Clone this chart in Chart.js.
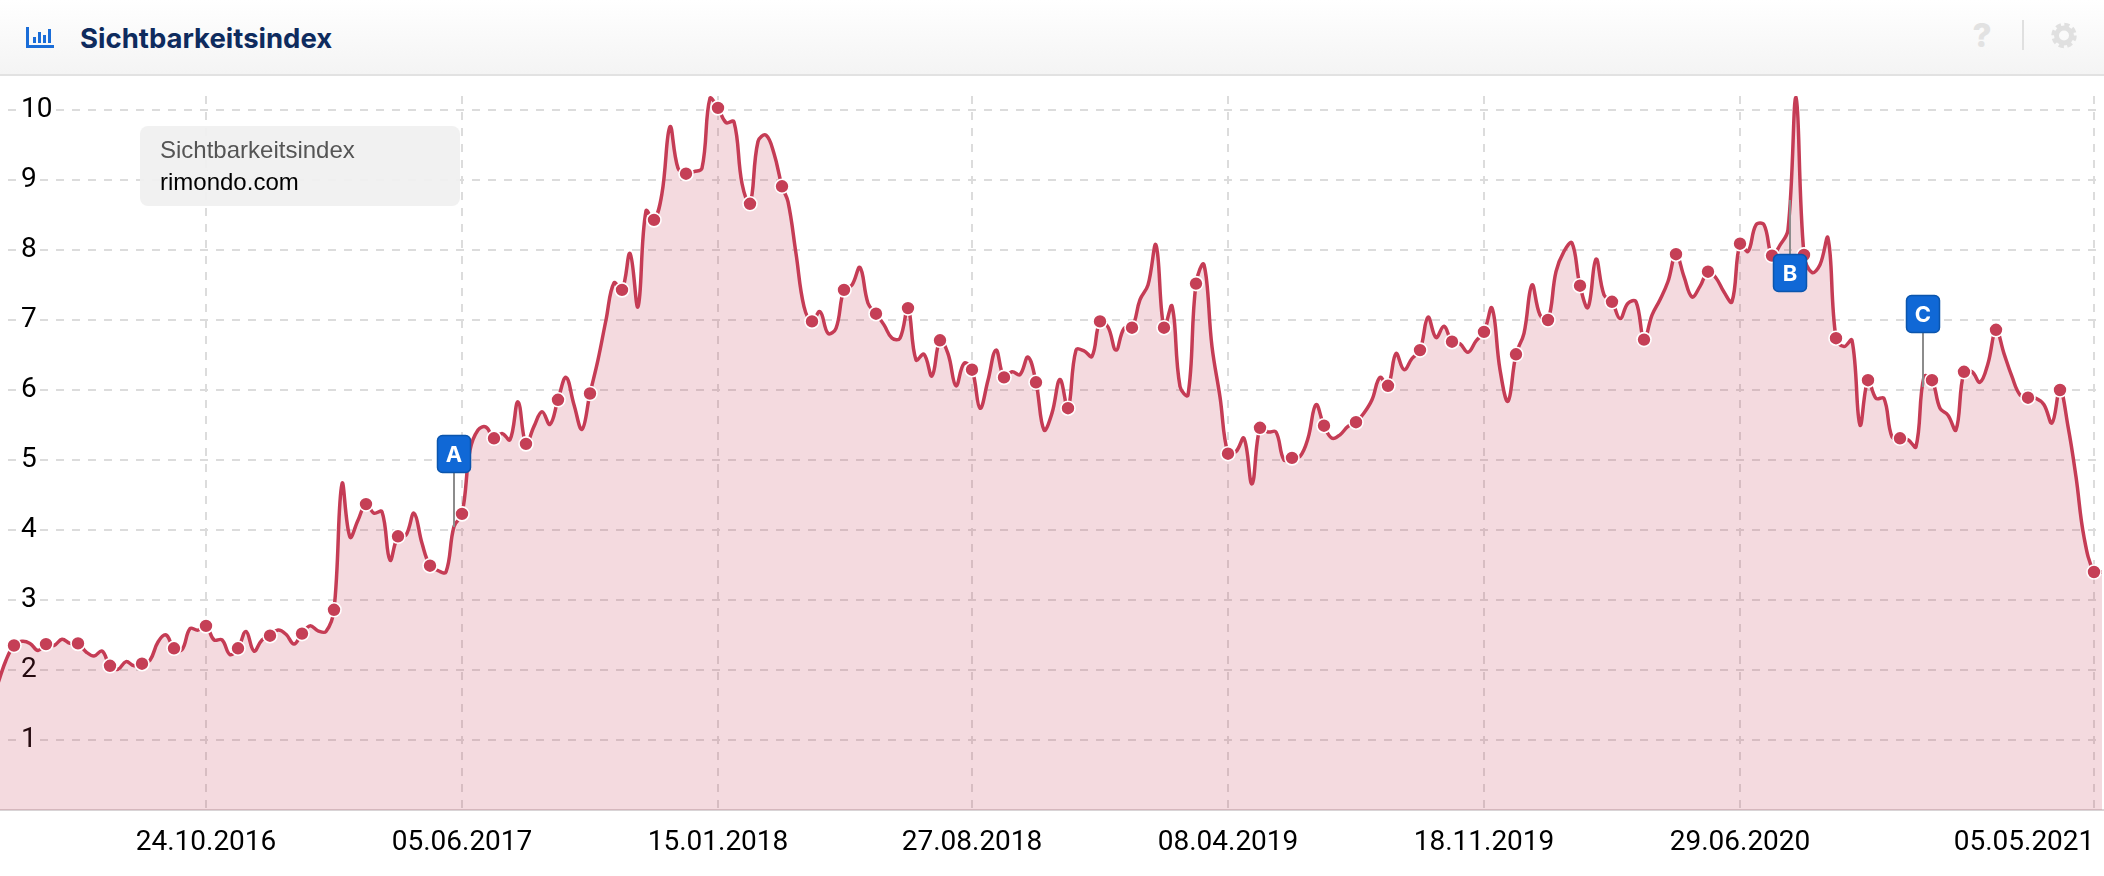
<!DOCTYPE html>
<html lang="de">
<head>
<meta charset="utf-8">
<title>Sichtbarkeitsindex</title>
<script src="https://cdn.jsdelivr.net/npm/chart.js@4/dist/chart.umd.js"></script>
<style>
  html, body { margin: 0; padding: 0; background: #fff; }
  #wrap { position: relative; width: 2104px; height: 876px; overflow: hidden; }
  #chart { position: absolute; left: 0; top: 0; }
  #head {
    position: absolute; left: 0; top: 0; width: 2104px; height: 74px;
    background: linear-gradient(#ffffff, #f4f4f4);
    border-bottom: 2px solid #e2e2e2;
  }
  #head svg { position: absolute; }
  #title {
    position: absolute; left: 80px; top: 20px;
    font: 700 27.500px/36px Inter, sans-serif; color: #0e2b5e;
  }
  #help {
    position: absolute; left: 1972px; top: 17px; width: 20px; text-align: center;
    font: 800 33px/36px Inter, sans-serif; color: #e2e2e2;
  }
  #sep { position: absolute; left: 2022px; top: 20px; width: 2px; height: 30px; background: #e0e0e0; }
  #box {
    position: absolute; left: 140px; top: 126px; width: 320px; height: 80px;
    background: rgba(240,240,240,0.93); border-radius: 8px;
    font-family: "Liberation Sans", Arial, sans-serif; font-size: 24px;
  }
  #box div { position: absolute; left: 20px; white-space: nowrap; }
  #box .a { top: 10px; color: #555; }
  #box .b { top: 42px; color: #000; }
</style>
</head>
<body>
<div id="wrap">
  <canvas id="chart" width="2104" height="876"></canvas>
  <div id="head">
    <svg style="left:26px;top:27px" width="28" height="21" viewBox="0 0 28 21">
      <path fill="#1a6dd8" d="M0 0h3v18h25v3h-28z M7 10h3v6h-3z M12 5h3v11h-3z M17 8h3v8h-3z M22 2h3v14h-3z"/>
    </svg>
    <div id="title">Sichtbarkeitsindex</div>
    <div id="help">?</div>
    <div id="sep"></div>
    <svg style="left:2051px;top:22px" width="26" height="27" viewBox="0 0 26 27">
      <circle cx="13" cy="13.500" r="10.500" fill="none" stroke="#e0e0e0" stroke-width="4.500" stroke-dasharray="5 3.250"/>
      <circle cx="13" cy="13.500" r="7.500" fill="none" stroke="#e0e0e0" stroke-width="5"/>
    </svg>
  </div>
  <div id="box"><div class="a">Sichtbarkeitsindex</div><div class="b">rimondo.com</div></div>
</div>
<script>
// weekly index values, four rows per year or so
const values2016 = [
  1.81, 2.14, 2.35, 2.41, 2.38, 2.28, 2.37, 2.35, 2.44, 2.38, 2.38, 2.26, 2.20, 2.27, 2.06, 2.01,
  2.12, 2.06, 2.09, 2.14, 2.40, 2.50, 2.31, 2.29, 2.59, 2.57, 2.63, 2.43, 2.43, 2.22, 2.31, 2.55,
  2.27, 2.43, 2.49, 2.57, 2.51, 2.37, 2.52, 2.63, 2.56, 2.55, 2.86, 4.66
];
const values2017 = [
  3.90, 4.14, 4.37, 4.24, 4.26, 3.57, 3.91, 3.93, 4.24, 3.81, 3.49, 3.42, 3.40, 4.05, 4.23, 5.14,
  5.43, 5.47, 5.31, 5.38, 5.29, 5.83, 5.23, 5.48, 5.69, 5.51, 5.86, 6.18, 5.79, 5.44, 5.95, 6.43,
  7.00, 7.53, 7.43, 7.95, 7.19, 8.56, 8.43, 8.81, 9.76, 9.17, 9.09, 9.12, 9.17, 10.17
];
const values2018 = [
  10.03, 9.82, 9.83, 8.95, 8.66, 9.55, 9.64, 9.38, 8.91, 8.69, 7.95, 7.19, 6.98, 7.12, 6.81, 6.88,
  7.43, 7.50, 7.75, 7.24, 7.09, 6.93, 6.74, 6.74, 7.17, 6.43, 6.51, 6.20, 6.71, 6.52, 6.06, 6.38,
  6.29, 5.74, 6.14, 6.57, 6.18, 6.26, 6.22, 6.47, 6.11, 5.43, 5.67, 6.15, 5.74, 6.57, 6.56, 6.48,
  6.98, 6.90, 6.57, 6.88, 6.89, 7.29, 7.50, 8.07, 6.89, 7.20, 6.05, 5.93, 7.52, 7.79, 6.62, 5.90
];
const values2019 = [
  5.09, 5.12, 5.31, 4.66, 5.46, 5.40, 5.40, 5.00, 5.03, 5.05, 5.31, 5.79, 5.49, 5.31, 5.36, 5.48,
  5.54, 5.67, 5.86, 6.18, 6.06, 6.52, 6.29, 6.45, 6.57, 7.04, 6.75, 6.91, 6.69, 6.66, 6.54, 6.70,
  6.83, 7.17, 6.29, 5.84, 6.51, 6.81, 7.50, 7.07, 7.00, 7.69, 7.98, 8.10, 7.49, 7.18, 7.87, 7.36
];
const values2020 = [
  7.26, 7.02, 7.24, 7.26, 6.72, 7.07, 7.29, 7.55, 7.94, 7.62, 7.33, 7.48, 7.69, 7.60, 7.40, 7.26,
  8.09, 7.98, 8.36, 8.36, 7.92, 8.07, 8.29, 10.18, 7.93, 7.68, 7.79, 8.17, 6.74, 6.62, 6.71, 5.50,
  6.14, 5.88, 5.88, 5.33, 5.31, 5.29, 5.19, 6.19, 6.14, 5.74, 5.64, 5.43, 6.26, 6.26, 6.11, 6.38,
  6.86, 6.52, 6.19, 5.93, 5.89, 5.88, 5.79, 5.53, 6.00, 5.48, 4.76, 3.90, 3.40, 3.40
];
const values = [...values2016, ...values2017, ...values2018, ...values2019, ...values2020];

const tickLabels = ['24.10.2016', '05.06.2017', '15.01.2018', '27.08.2018', '08.04.2019', '18.11.2019', '29.06.2020', '05.05.2021'];
const tickWeeks = [26, 58, 90, 122, 154, 186, 218, 262];
const yTicks = [1, 2, 3, 4, 5, 6, 7, 8, 9, 10];

const flagLabels = ['A', 'B', 'C'];
const flagWeeks = [57, 224, 240.6];
const flagValues = [4.05, 8.71, 6.04];
const flagBelow = [false, true, false];

const lineColor = '#c53c55';
const dashGrid = '#dcdcdc';
const fontTicks = { family: 'Roboto', size: 28 };

// the time axis loses a quarter week in 2018 and gets it back at the very end
function weekPos(i) {
  if (i >= 262) return i;
  return i >= 99 ? i - 0.25 : i;
}

const points = values.map(function (v, i) { return { x: weekPos(i), y: v }; });

// the last label sits left of its grid line, so it gets a tick of its own
const lastLabelPos = 253.25;
function buildXTicks(scale) {
  const out = [];
  tickWeeks.forEach(function (w, i) {
    if (i < tickWeeks.length - 1) out.push({ value: weekPos(w), label: tickLabels[i], line: true });
  });
  out.push({ value: lastLabelPos, label: tickLabels[tickLabels.length - 1], line: false });
  out.push({ value: weekPos(tickWeeks[tickWeeks.length - 1]), label: '', line: true });
  scale.ticks = out;
}

const flagsPlugin = {
  id: 'flags',
  afterDatasetsDraw: function (chart) {
    const ctx = chart.ctx, xs = chart.scales.x, ys = chart.scales.y;
    flagLabels.forEach(function (label, i) {
      const x = Math.round(xs.getPixelForValue(flagWeeks[i]));
      const y = Math.round(ys.getPixelForValue(flagValues[i]));
      const stem = 54;
      const top = flagBelow[i] ? y + stem : y - stem - 38;
      ctx.save();
      ctx.strokeStyle = '#8c8c8c';
      ctx.lineWidth = 2;
      ctx.beginPath();
      ctx.moveTo(x, y);
      ctx.lineTo(x, flagBelow[i] ? y + stem : y - stem);
      ctx.stroke();
      ctx.fillStyle = '#1068d6';
      ctx.strokeStyle = '#0b55ad';
      ctx.lineWidth = 1.5;
      ctx.beginPath();
      ctx.roundRect(x - 16.500, top + 0.5, 33, 37, 5);
      ctx.fill();
      ctx.stroke();
      ctx.fillStyle = '#fff';
      ctx.font = '700 22px Inter, sans-serif';
      ctx.textAlign = 'center';
      ctx.textBaseline = 'middle';
      ctx.fillText(label, x, top + 20);
      ctx.restore();
    });
  }
};

new Chart(document.getElementById('chart'), {
  type: 'line',
  data: {
    datasets: [{
      data: points,
      borderColor: lineColor,
      borderWidth: 3.5,
      backgroundColor: 'rgba(197,60,85,0.19)',
      fill: 'origin',
      tension: 0.4,
      pointRadius: function (c) {
        const i = c.dataIndex;
        return (i - 2) % 4 === 0 && i <= 262 ? 7 : 0;
      },
      pointBackgroundColor: '#c53f56',
      pointBorderColor: '#fff',
      pointBorderWidth: 1.6
    }]
  },
  options: {
    responsive: false,
    animation: false,
    events: [],
    layout: { padding: { top: 96, left: 0, right: 0, bottom: 0 } },
    plugins: { legend: { display: false }, tooltip: { enabled: false } },
    scales: {
      x: {
        type: 'linear',
        min: 0.25,
        max: 263.25,
        afterBuildTicks: buildXTicks,
        afterFit: function (scale) {
          scale.height = 66;
          // plot runs edge to edge, labels may stay inside it
          scale.paddingLeft = 0;
          scale.paddingRight = 0;
        },
        grid: {
          drawTicks: false,
          lineWidth: 2,
          color: function (c) { return c.tick && c.tick.line ? dashGrid : 'rgba(0,0,0,0)'; }
        },
        border: { display: true, color: '#d9d4d6', width: 2, dash: [8, 8] },
        ticks: {
          autoSkip: false,
          maxRotation: 0,
          font: fontTicks,
          color: '#000',
          padding: 16,
          callback: function (value, i, ticks) { return ticks[i].label; }
        }
      },
      y: {
        type: 'linear',
        min: 0,
        max: 10.2,
        afterBuildTicks: function (scale) {
          scale.ticks = yTicks.map(function (v) { return { value: v }; });
        },
        afterFit: function (scale) { scale.width = 0; },
        grid: { drawTicks: false, lineWidth: 2, color: dashGrid },
        border: { display: false, dash: [8, 8], dashOffset: 8 },
        ticks: {
          mirror: true,
          padding: 21,
          font: fontTicks,
          color: '#000',
          showLabelBackdrop: true,
          backdropColor: '#fff',
          backdropPadding: 3,
          callback: function (value) { return String(value); }
        }
      }
    }
  },
  plugins: [flagsPlugin]
});
</script>
</body>
</html>
